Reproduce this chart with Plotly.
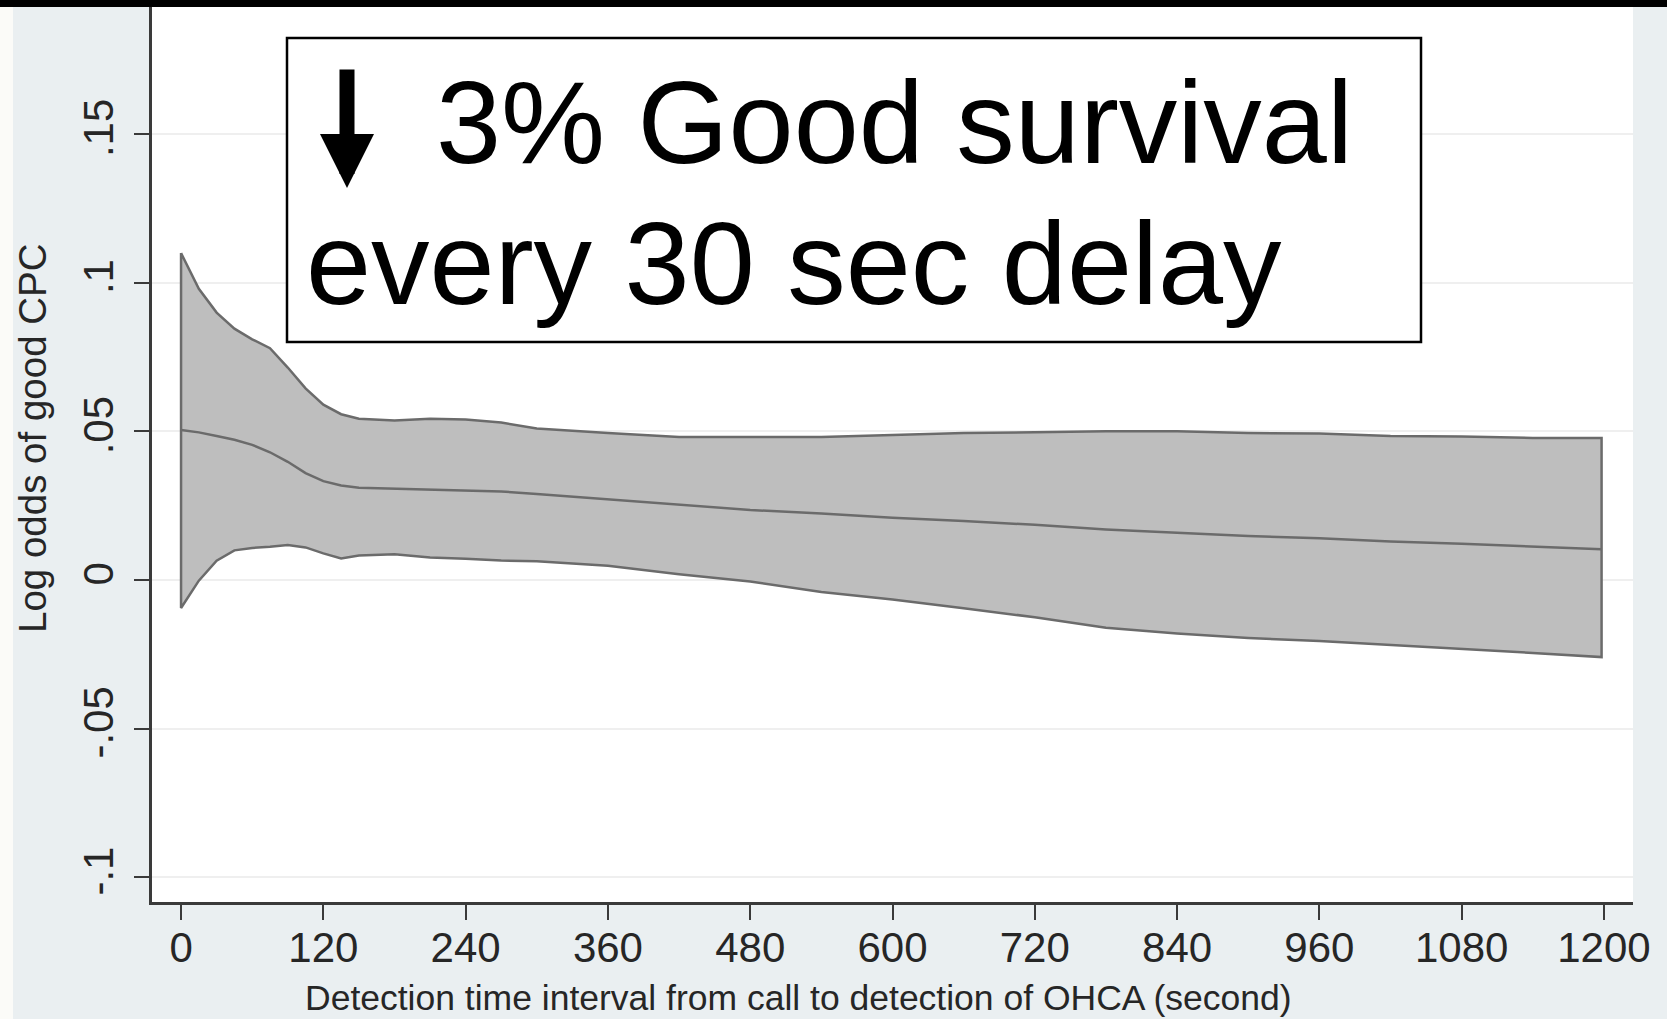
import plotly.graph_objects as go

# ---------------- data ----------------
detect_time = [0, 15, 30, 45, 60, 75, 90, 105, 120, 135, 150, 180, 210, 240, 270, 300,
               360, 420, 480, 540, 600, 660, 720, 780, 840, 900, 960, 1020, 1080, 1140, 1198]
upper_ci = [0.110, 0.098, 0.090, 0.0846, 0.081, 0.078, 0.0715, 0.0645, 0.059, 0.0558, 0.0543,
            0.0537, 0.0543, 0.0540, 0.0530, 0.0510, 0.0495, 0.0481, 0.0481, 0.0481, 0.0488,
            0.0495, 0.0497, 0.0501, 0.0501, 0.0495, 0.0493, 0.0485, 0.0483, 0.0478, 0.0478]
log_odds = [0.0505, 0.0497, 0.0485, 0.0472, 0.0455, 0.0430, 0.0398, 0.0360, 0.0333, 0.0318,
            0.0311, 0.0308, 0.0306, 0.0303, 0.0298, 0.0290, 0.0272, 0.0252, 0.0236, 0.0224,
            0.0210, 0.0199, 0.0186, 0.0170, 0.0159, 0.0148, 0.0141, 0.0130, 0.0122, 0.0112, 0.0104]
lower_ci = [-0.0094, -0.0002, 0.0065, 0.0100, 0.0108, 0.0112, 0.0118, 0.0110, 0.0090, 0.0073,
            0.0083, 0.0087, 0.0076, 0.0072, 0.0066, 0.0063, 0.0048, 0.0020, -0.0005, -0.0040,
            -0.0065, -0.0095, -0.0125, -0.0160, -0.0180, -0.0195, -0.0205, -0.0218, -0.0232,
            -0.0245, -0.0259]

x_ticks = [0, 120, 240, 360, 480, 600, 720, 840, 960, 1080, 1200]
y_ticks = [-0.1, -0.05, 0, 0.05, 0.1, 0.15]
y_tick_labels = ["-.1", "-.05", "0", ".05", ".1", ".15"]

x_title = "Detection time interval from call to detection of OHCA (second)"
y_title = "Log odds of good CPC"
box_line1 = "3% Good survival"
box_line2 = "every 30 sec delay"

# ---------------- layout geometry (pixels) ----------------
W, H = 1667, 1019
ML, MR, MT, MB = 152, 34, 7, 117
PW, PH = W - ML - MR, H - MT - MB


def px(xpix):
    return (xpix - ML) / PW


def py(ypix):
    return (H - MB - ypix) / PH


BAND_FILL = "#bebebe"
BAND_LINE = "#6b6b6b"
AXIS_COL = "#3a3a3a"
TEXT_COL = "#262626"
BG = "#eaeff1"
FONT = "Liberation Sans, Arial, sans-serif"

fig = go.Figure()

# confidence band as closed polygon
band_x = detect_time + detect_time[::-1] + [detect_time[0]]
band_y = upper_ci + lower_ci[::-1] + [upper_ci[0]]
fig.add_trace(go.Scatter(x=band_x, y=band_y, mode="lines", fill="toself",
                         fillcolor=BAND_FILL, line=dict(color=BAND_LINE, width=2.5),
                         hoverinfo="skip", showlegend=False))
fig.add_trace(go.Scatter(x=detect_time, y=log_odds, mode="lines",
                         line=dict(color=BAND_LINE, width=2.5), showlegend=False))

fig.update_layout(
    width=W, height=H,
    margin=dict(l=ML, r=MR, t=MT, b=MB),
    paper_bgcolor=BG, plot_bgcolor="white",
    font=dict(family=FONT, color=TEXT_COL),
    showlegend=False,
)

fig.update_xaxes(range=[-24.5, 1224.5], tickvals=x_ticks, ticks="outside", ticklen=15,
                 tickwidth=2, tickcolor=AXIS_COL, showline=True, linecolor=AXIS_COL,
                 linewidth=2.5, showgrid=False, zeroline=False,
                 tickfont=dict(size=42, color=TEXT_COL), ticklabelstandoff=-8)
fig.update_yaxes(range=[-0.1083, 0.1928], tickvals=y_ticks, ticktext=y_tick_labels,
                 ticks="outside", ticklen=15, tickwidth=2, tickcolor=AXIS_COL,
                 showline=True, linecolor=AXIS_COL, linewidth=2.5,
                 showgrid=True, gridcolor="#efefef", gridwidth=2, zeroline=False,
                 tickangle=-90, tickfont=dict(size=42, color=TEXT_COL), ticklabelstandoff=4)

# decorative frame pieces
fig.add_shape(type="rect", xref="paper", yref="paper", x0=px(0), x1=px(W), y0=py(7), y1=py(-5),
              fillcolor="black", line_width=0, layer="above")
fig.add_shape(type="rect", xref="paper", yref="paper", x0=px(0), x1=px(13), y0=py(H + 5), y1=py(7),
              fillcolor="#fbfbf8", line_width=0, layer="above")

# annotation box
fig.add_shape(type="rect", xref="paper", yref="paper", x0=px(287), x1=px(1421), y0=py(342), y1=py(38),
              fillcolor="white", line=dict(color="black", width=2.5), layer="above")
fig.add_annotation(x=px(434), y=py(123), xref="paper", yref="paper", text=box_line1,
                   showarrow=False, xanchor="left", yanchor="middle",
                   font=dict(size=117, color="black", family=FONT))
fig.add_annotation(x=px(304), y=py(263), xref="paper", yref="paper", text=box_line2,
                   showarrow=False, xanchor="left", yanchor="middle",
                   font=dict(size=117, color="black", family=FONT))
fig.add_annotation(x=px(347), y=py(188), xref="paper", yref="paper", text="",
                   showarrow=True, ax=0, ay=-120, arrowhead=2, arrowwidth=15,
                   arrowsize=0.72, arrowcolor="black", standoff=0)

# axis titles
fig.add_annotation(x=px(798), y=py(998), xref="paper", yref="paper", text=x_title,
                   showarrow=False, xanchor="center", yanchor="middle",
                   font=dict(size=35.5, color=TEXT_COL, family=FONT))
fig.add_annotation(x=px(32), y=py(438), xref="paper", yref="paper", text=y_title,
                   showarrow=False, xanchor="center", yanchor="middle", textangle=-90,
                   font=dict(size=38.5, color=TEXT_COL, family=FONT))

fig.write_html("out.html", config={"displayModeBar": False},
               post_script="document.body.style.margin='0';")
